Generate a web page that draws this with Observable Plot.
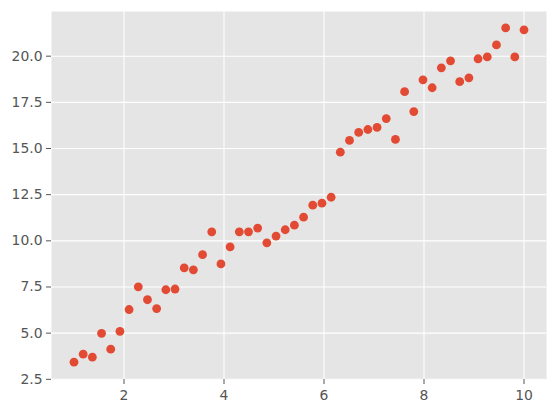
<!DOCTYPE html>
<html>
<head>
<meta charset="utf-8">
<script src="https://cdn.jsdelivr.net/npm/d3@7"></script>
<script src="https://cdn.jsdelivr.net/npm/@observablehq/plot@0.6"></script>
<style>
  html, body { margin: 0; padding: 0; background: #ffffff; }
  #chart { width: 556px; height: 413px; }
</style>
</head>
<body>
<div id="chart"></div>
<script>
const xValues = [1, 1.1837, 1.3673, 1.551, 1.7347, 1.9184, 2.102, 2.2857, 2.4694, 2.6531,
  2.8367, 3.0204, 3.2041, 3.3878, 3.5714, 3.7551, 3.9388, 4.1224, 4.3061, 4.4898,
  4.6735, 4.8571, 5.0408, 5.2245, 5.4082, 5.5918, 5.7755, 5.9592, 6.1429, 6.3265,
  6.5102, 6.6939, 6.8776, 7.0612, 7.2449, 7.4286, 7.6122, 7.7959, 7.9796, 8.1633,
  8.3469, 8.5306, 8.7143, 8.898, 9.0816, 9.2653, 9.449, 9.6327, 9.8163, 10];
const yValues = [3.43, 3.86, 3.70, 4.99, 4.13, 5.10, 6.28, 7.51, 6.81, 6.33,
  7.35, 7.39, 8.54, 8.43, 9.25, 10.49, 8.75, 9.67, 10.49, 10.49,
  10.69, 9.89, 10.26, 10.60, 10.85, 11.28, 11.93, 12.04, 12.36, 14.80,
  15.44, 15.87, 16.03, 16.14, 16.62, 15.49, 18.08, 17.00, 18.72, 18.29,
  19.37, 19.75, 18.62, 18.83, 19.86, 19.96, 20.61, 21.53, 19.96, 21.43];
const xTicks = [2, 4, 6, 8, 10];
const yTicks = [2.5, 5.0, 7.5, 10.0, 12.5, 15.0, 17.5, 20.0];

const data = xValues.map((x, i) => ({x, y: yValues[i]}));

const chart = Plot.plot({
  width: 556,
  height: 413,
  marginLeft: 51,
  marginRight: 10,
  marginTop: 11,
  marginBottom: 34,
  style: {fontFamily: "DejaVu Sans", fontSize: "13.9px", color: "#555555", background: "#ffffff"},
  x: {domain: [0.55, 10.45]},
  y: {domain: [2.49, 22.42]},
  marks: [
    Plot.frame({fill: "#E5E5E5", stroke: "none"}),
    Plot.ruleX(xTicks, {stroke: "#ffffff", strokeWidth: 1.1}),
    Plot.ruleY(yTicks, {stroke: "#ffffff", strokeWidth: 1.1}),
    Plot.axisX({ticks: xTicks, tickSize: 5, tickPadding: 6, label: null, tickFormat: d => String(d), stroke: "#555555"}),
    Plot.axisY({ticks: yTicks, tickSize: 5, tickPadding: 4, label: null, tickFormat: d => d.toFixed(1), stroke: "#555555"}),
    Plot.dot(data, {x: "x", y: "y", r: 4.4, fill: "#E24A33", stroke: "none"})
  ]
});
document.getElementById("chart").appendChild(chart);
</script>
</body>
</html>
